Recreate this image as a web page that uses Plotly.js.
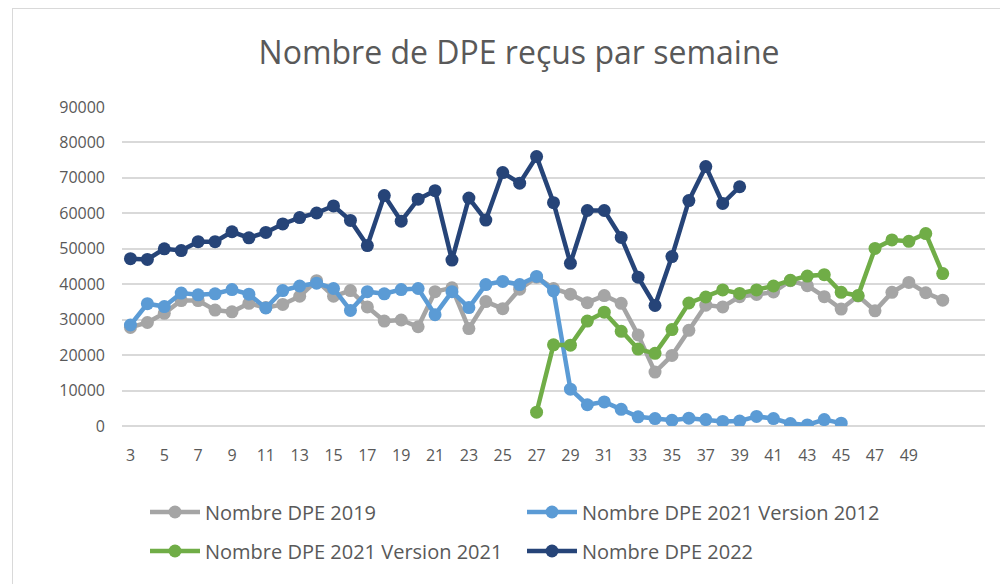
<!DOCTYPE html>
<html>
<head>
<meta charset="utf-8">
<script src="https://cdn.plot.ly/plotly-3.0.1.min.js"></script>
<style>
  html, body { margin: 0; padding: 0; background: #ffffff; }
  #wrap { position: relative; width: 1000px; height: 584px; overflow: hidden; }
  #chart { position: absolute; left: 0; top: 0; width: 1000px; height: 584px; }
  #frame { position: absolute; left: 12px; top: 8px; width: 1000px; height: 600px;
           border-left: 1px solid #d9d9d9; border-top: 1px solid #d9d9d9; pointer-events: none; }
</style>
</head>
<body>
<div id="wrap">
  <div id="chart"></div>
  <div id="frame"></div>
</div>
<script>
// Weeks (x categories)
const weeks2019 = [3,4,5,6,7,8,9,10,11,12,13,14,15,16,17,18,19,20,21,22,23,24,25,26,27,28,29,30,31,32,33,34,35,36,37,38,39,40,41,42,43,44,45,46,47,48,49,50,51];
const dpe2019 = [27800,29200,31800,35400,35400,32700,32200,34600,33400,34300,36600,41000,36600,38200,33600,29600,29900,28000,37900,39000,27500,35100,33100,38600,42000,38800,37200,34800,36800,34600,25700,15200,19900,27000,34100,33600,36500,37100,37800,41000,39600,36500,33000,36700,32500,37700,40500,37600,35500];

const weeksV2012 = [3,4,5,6,7,8,9,10,11,12,13,14,15,16,17,18,19,20,21,22,23,24,25,26,27,28,29,30,31,32,33,34,35,36,37,38,39,40,41,42,43,44,45];
const dpe2021v2012 = [28500,34500,33700,37500,37000,37300,38500,37200,33300,38200,39500,40300,38800,32600,37900,37300,38500,38800,31400,37900,33400,39900,40800,39900,42200,38100,10400,6000,6800,4700,2600,2100,1600,2200,1800,1300,1400,2700,2100,700,300,1800,800];

const weeksV2021 = [27,28,29,30,31,32,33,34,35,36,37,38,39,40,41,42,43,44,45,46,47,48,49,50,51];
const dpe2021v2021 = [3900,22900,22800,29600,32100,26700,21700,20500,27200,34700,36400,38400,37400,38400,39500,41100,42300,42700,37700,36800,50100,52500,52100,54300,43000];

const weeks2022 = [3,4,5,6,7,8,9,10,11,12,13,14,15,16,17,18,19,20,21,22,23,24,25,26,27,28,29,30,31,32,33,34,35,36,37,38,39];
const dpe2022 = [47200,47000,50000,49500,52000,52000,54800,53100,54600,57000,58800,60100,62100,58000,50900,65000,57800,64000,66400,46800,64300,58100,71500,68500,76000,63000,45900,60800,60800,53200,42000,34000,47800,63600,73200,62800,67500];

const xTickVals = [3,5,7,9,11,13,15,17,19,21,23,25,27,29,31,33,35,37,39,41,43,45,47,49];

const seriesNames = ["Nombre DPE 2019", "Nombre DPE 2021 Version 2012", "Nombre DPE 2021 Version 2021", "Nombre DPE 2022"];
const seriesColors = ["#A5A5A5", "#5B9BD5", "#70AD47", "#264478"];

function mk(x, y, i, leg) {
  return {
    type: "scatter", mode: "lines+markers",
    x: x, y: y, name: seriesNames[i],
    line: { color: seriesColors[i], width: 4.5 },
    marker: { color: seriesColors[i], size: 13 },
    legend: leg
  };
}

const data = [
  mk(weeks2019, dpe2019, 0, "legend"),
  mk(weeksV2012, dpe2021v2012, 1, "legend"),
  mk(weeksV2021, dpe2021v2021, 2, "legend2"),
  mk(weeks2022, dpe2022, 3, "legend2")
];

const fontFam = "Open Sans, Liberation Sans, sans-serif";
const legCommon = {
  orientation: "h", entrywidth: 312, entrywidthmode: "pixels",
  font: { family: fontFam, size: 20, color: "#595959" },
  bgcolor: "rgba(0,0,0,0)", itemwidth: 50, xanchor: "left", yanchor: "middle"
};

const layout = {
  width: 1000, height: 584,
  paper_bgcolor: "#ffffff", plot_bgcolor: "#ffffff",
  margin: { l: 122, r: 15, t: 107, b: 158 },
  title: {
    text: "Nombre de DPE reçus par semaine",
    font: { family: fontFam, size: 32, color: "#595959" },
    x: 0.519, xref: "container", xanchor: "center",
    y: 1 - 53/584, yref: "container", yanchor: "middle"
  },
  xaxis: {
    type: "linear", range: [2.5, 53.5],
    tickmode: "array", tickvals: xTickVals,
    showgrid: false, zeroline: false, showline: false, ticks: "",
    ticklabelstandoff: 18,
    tickfont: { family: fontFam, size: 16, color: "#595959" }
  },
  yaxis: {
    range: [0, 90000], dtick: 10000, tick0: 0,
    showgrid: true, gridcolor: "#D9D9D9", gridwidth: 2,
    zeroline: true, zerolinecolor: "#D9D9D9", zerolinewidth: 2,
    showline: false, ticks: "", ticklabelstandoff: 16,
    tickformat: "d",
    tickfont: { family: fontFam, size: 16, color: "#595959" }
  },
  legend: Object.assign({}, legCommon, { x: (145 - 122) / 863, y: -(512 - 426) / 319 }),
  legend2: Object.assign({}, legCommon, { x: (145 - 122) / 863, y: -(551 - 426) / 319 }),
  showlegend: true
};

Plotly.newPlot("chart", data, layout, { displayModeBar: false, staticPlot: true });
</script>
</body>
</html>
